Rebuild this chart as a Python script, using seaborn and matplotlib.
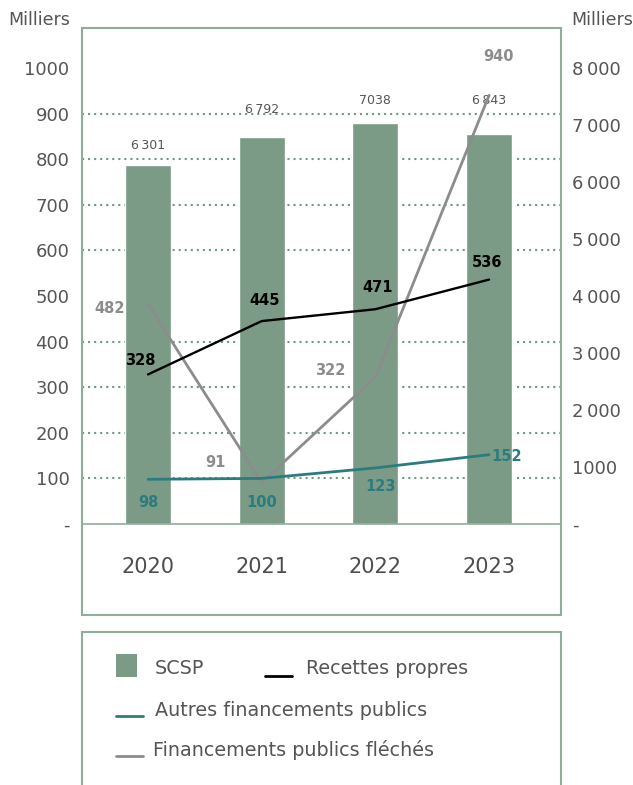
import numpy as np
import pandas as pd
import matplotlib.pyplot as plt
import seaborn as sns
from matplotlib.patches import Rectangle
from matplotlib.lines import Line2D

# ==============================
# Data
# ==============================
years = ["2020", "2021", "2022", "2023"]
scsp = [6301, 6792, 7038, 6843]            # right axis (bars)
recettes = [328, 445, 471, 536]            # left axis
autres = [98, 100, 123, 152]               # left axis
fleches = [482, 91, 322, 940]              # left axis

left_ticks = [0, 100, 200, 300, 400, 500, 600, 700, 800, 900, 1000]
left_labels = ["-", "100", "200", "300", "400", "500", "600", "700", "800", "900", "1000"]
right_ticks = [0, 1000, 2000, 3000, 4000, 5000, 6000, 7000, 8000]
right_labels = ["-", "1000", "2\u2009000", "3\u2009000", "4\u2009000", "5\u2009000",
                "6\u2009000", "7\u2009000", "8\u2009000"]
bar_labels = ["6\u2009301", "6\u2009792", "7038", "6\u2009843"]

# label offsets in pixels (dx, dy up)
off_bar = [(0, 19), (0, 27), (0, 22), (0, 33)]
off_rec = [(-8, 14), (3, 21), (2, 22), (-2, 17)]
off_aut = [(0, -23), (0, -24), (5, -19), (18, -2)]
off_fle = [(-38, -4), (-46, 20), (-45, 7), (9, 39)]

# ==============================
# Style
# ==============================
sns.set_theme(style="white")
plt.rcParams["font.family"] = ["DejaVu Sans"]

GREEN = "#7b9b87"
FRAME = "#8fae9a"
GRID = "#6f9a7e"
TEXT = "#555555"
TEAL = "#2b7c7e"
GREY = "#8c8c8c"

W, H = 633, 785
fig = plt.figure(figsize=(W / 100, H / 100), dpi=100)


def fx(x):
    return x / W


def fy(y):
    return 1 - y / H


ax = fig.add_axes([fx(82), fy(524), (561 - 82) / W, (524 - 28) / H])
ax2 = ax.twinx()

# bars on the right scale (drawn behind)
df = pd.DataFrame({"year": years, "scsp": scsp})
sns.barplot(data=df, x="year", y="scsp", color=GREEN, width=0.405,
            saturation=1, ax=ax2, zorder=2)

top_left = 496 / 456 * 1000
ax.set_ylim(0, top_left)
ax2.set_ylim(0, top_left * 8)
ax.set_xlim(-0.581, 3.633)

# grid follows the left ticks -> minor ticks on bar axis
ax2.set_yticks(np.arange(800, 8001, 800), minor=True)
ax2.grid(which="minor", axis="y", color=GRID, linestyle=(0, (1, 1.9)), linewidth=1.5)
ax2.grid(which="major", visible=False)
ax2.set_axisbelow(True)
ax2.tick_params(which="minor", length=0)

ax.set_zorder(ax2.get_zorder() + 1)
ax.patch.set_visible(False)

# lines on left scale
lines = pd.DataFrame({"year": years, "rec": recettes, "aut": autres, "fle": fleches})
sns.lineplot(data=lines, x="year", y="fle", color=GREY, linewidth=2.0, ax=ax)
sns.lineplot(data=lines, x="year", y="aut", color=TEAL, linewidth=2.0, ax=ax)
sns.lineplot(data=lines, x="year", y="rec", color="black", linewidth=1.7, ax=ax)
ax.set_xlim(-0.581, 3.633)

# data labels
for i in range(len(years)):
    ax2.annotate(bar_labels[i], (i, scsp[i]), xytext=(off_bar[i][0] * 0.72, off_bar[i][1] * 0.72),
                 textcoords="offset points", ha="center", va="center", fontsize=9, color=TEXT)
    ax.annotate(str(recettes[i]), (i, recettes[i]), xytext=(off_rec[i][0] * 0.72, off_rec[i][1] * 0.72),
                textcoords="offset points", ha="center", va="center", fontsize=10.5,
                fontweight="bold", color="black")
    ax.annotate(str(autres[i]), (i, autres[i]), xytext=(off_aut[i][0] * 0.72, off_aut[i][1] * 0.72),
                textcoords="offset points", ha="center", va="center", fontsize=10.5,
                fontweight="bold", color=TEAL)
    ax.annotate(str(fleches[i]), (i, fleches[i]), xytext=(off_fle[i][0] * 0.72, off_fle[i][1] * 0.72),
                textcoords="offset points", ha="center", va="center", fontsize=10.5,
                fontweight="bold", color=GREY)

# axes / ticks
ax.set_yticks(left_ticks)
ax.set_yticklabels(left_labels)
ax2.set_yticks(right_ticks)
ax2.set_yticklabels(right_labels)
ax.tick_params(axis="y", length=0, pad=9, labelsize=13, labelcolor=TEXT)
ax2.tick_params(axis="y", which="major", length=0, pad=8, labelsize=13, labelcolor=TEXT)

ax.set_xticks(range(len(years)))
ax.set_xticklabels(years)
ax.tick_params(axis="x", length=0, pad=24, labelsize=15, labelcolor="#4d4d4d")
ax.set_xticks([0.5, 1.5, 2.5], minor=True)
ax.tick_params(axis="x", which="minor", direction="out", length=19, width=1, color=FRAME)
ax2.tick_params(axis="x", length=0)

for a in (ax, ax2):
    a.set_xlabel("")
    a.set_ylabel("")
    for s in ("left", "right", "top", "bottom"):
        a.spines[s].set_visible(False)
ax.spines["bottom"].set_visible(True)
ax.spines["bottom"].set_color(FRAME)
ax.spines["bottom"].set_linewidth(1.2)

# outer frame
fig.add_artist(Rectangle((fx(82), fy(615)), (561 - 82) / W, (615 - 28) / H,
                         transform=fig.transFigure, fill=False, edgecolor=FRAME, linewidth=1.5))

fig.text(fx(39), fy(20), "Milliers", ha="center", va="center", fontsize=12.5, color=TEXT)
fig.text(fx(571), fy(20), "Milliers", ha="left", va="center", fontsize=12.5, color=TEXT)

# legend box
fig.add_artist(Rectangle((fx(82), fy(800)), (561 - 82) / W, (800 - 632) / H,
                         transform=fig.transFigure, fill=False, edgecolor=FRAME, linewidth=1.5))
fig.add_artist(Rectangle((fx(116), fy(677)), 21 / W, 23 / H, transform=fig.transFigure,
                         facecolor=GREEN, edgecolor="none"))
fig.text(fx(155), fy(668), "SCSP", ha="left", va="center", fontsize=13.8, color=TEXT)
fig.add_artist(Line2D([fx(265), fx(292)], [fy(676), fy(676)], transform=fig.transFigure,
                      color="black", linewidth=2))
fig.text(fx(306), fy(668), "Recettes propres", ha="left", va="center", fontsize=13.8, color=TEXT)
fig.add_artist(Line2D([fx(116), fx(143)], [fy(716), fy(716)], transform=fig.transFigure,
                      color=TEAL, linewidth=2))
fig.text(fx(155), fy(711), "Autres financements publics", ha="left", va="center",
         fontsize=13.8, color=TEXT)
fig.add_artist(Line2D([fx(116), fx(143)], [fy(756), fy(756)], transform=fig.transFigure,
                      color=GREY, linewidth=2))
fig.text(fx(153), fy(750), "Financements publics fléchés", ha="left", va="center",
         fontsize=13.8, color=TEXT)

fig.savefig("out.png", dpi=100)
